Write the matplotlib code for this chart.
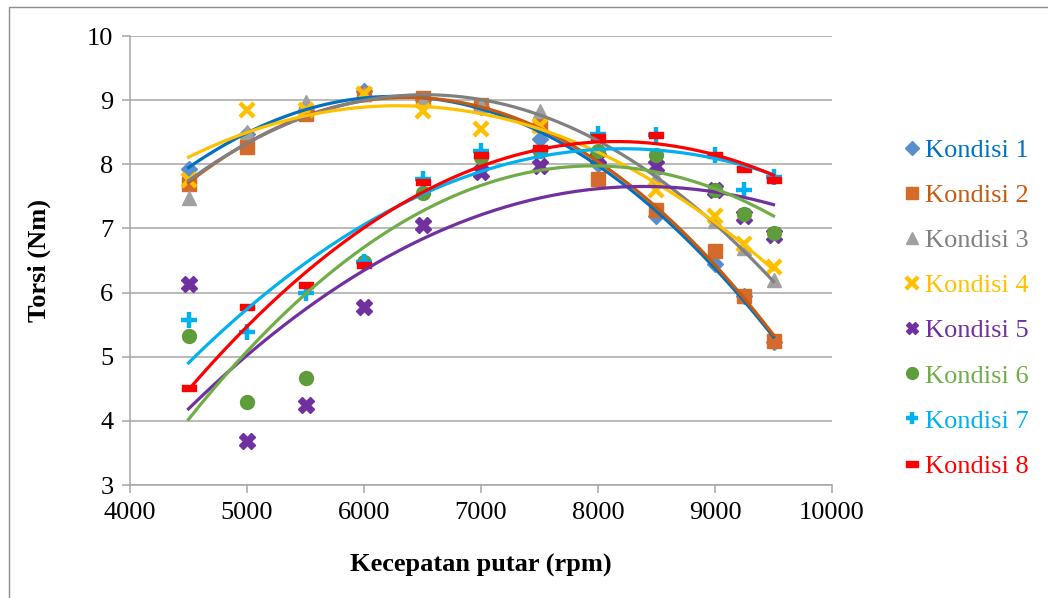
import numpy as np
import matplotlib
matplotlib.use("Agg")
import matplotlib.pyplot as plt
from matplotlib.patches import Rectangle
from matplotlib.path import Path

plt.rcParams['font.family'] = ['Liberation Serif', 'DejaVu Serif']

# Engine speed (rpm)
rpm = [4500, 5000, 5500, 6000, 6500, 7000, 7500, 8000, 8500, 9000, 9250, 9500]

# Torque (Nm) for each condition
k1 = [7.93, 8.47, 8.85, 9.15, 9.00, 8.90, 8.40, 8.00, 7.20, 6.45, 5.95, 5.23]
k2 = [7.70, 8.27, 8.78, 9.10, 9.03, 8.93, 8.62, 7.77, 7.28, 6.65, 5.95, 5.25]
k3 = [7.47, 8.50, 8.97, 9.10, 9.00, 8.93, 8.83, 8.10, 7.80, 7.12, 6.70, 6.20]
k4 = [7.75, 8.85, 8.85, 9.10, 8.83, 8.55, 8.60, 8.10, 7.60, 7.20, 6.75, 6.40]
k5 = [6.13, 3.68, 4.25, 5.77, 7.05, 7.88, 7.97, 8.10, 7.98, 7.60, 7.20, 6.90]
k6 = [5.32, 4.30, 4.67, 6.47, 7.55, 8.12, 8.20, 8.20, 8.15, 7.60, 7.22, 6.93]
k7 = [5.57, 5.38, 6.00, 6.48, 7.77, 8.20, 8.20, 8.47, 8.45, 8.15, 7.60, 7.80]
k8 = [4.52, 5.78, 6.12, 6.43, 7.73, 8.15, 8.25, 8.43, 8.45, 8.15, 7.93, 7.75]

labels = ['Kondisi 1', 'Kondisi 2', 'Kondisi 3', 'Kondisi 4',
          'Kondisi 5', 'Kondisi 6', 'Kondisi 7', 'Kondisi 8']
series = [k1, k2, k3, k4, k5, k6, k7, k8]

marker_colors = ['#5B8FCB', '#D46B2B', '#A0A0A0', '#FFC000',
                 '#7030A0', '#5E9C3C', '#00B0F0', '#FF0000']
line_colors = ['#0070C0', '#C55A11', '#808080', '#FFC000',
               '#7030A0', '#70AD47', '#00B0F0', '#FF0000']
text_colors = ['#0070C0', '#C55A11', '#808080', '#FFC000',
               '#7030A0', '#70AD47', '#00B0F0', '#FF0000']

dash = Path([(-1, -0.45), (1, -0.45), (1, 0.45), (-1, 0.45), (-1, -0.45)],
            [Path.MOVETO, Path.LINETO, Path.LINETO, Path.LINETO, Path.CLOSEPOLY])
styles = [
    dict(marker='D', markersize=8),
    dict(marker='s', markersize=10),
    dict(marker='^', markersize=10),
    dict(marker='x', markersize=10, markeredgewidth=3.2),
    dict(marker='X', markersize=11),
    dict(marker='o', markersize=10),
    dict(marker='+', markersize=11, markeredgewidth=3.2),
    dict(marker=dash, markersize=10),
]

fig = plt.figure(figsize=(10.48, 5.98), dpi=100)
fig.patches.append(Rectangle((9 / 1048, -0.1), 1.2, 1.1 - 7 / 598,
                             transform=fig.transFigure, fill=False,
                             edgecolor='#8C8C8C', linewidth=1.0))

ax = fig.add_axes([130 / 1048, 1 - 485 / 598, 702 / 1048, 449 / 598])

x = np.array(rpm)
xs = np.linspace(x.min(), x.max(), 200)
handles = []
for y, lab, mc, lc, st in zip(series, labels, marker_colors, line_colors, styles):
    y = np.array(y)
    kw = dict(st)
    if kw['marker'] in ('x', '+'):
        h, = ax.plot(x, y, linestyle='none', color=mc, label=lab, zorder=3, **kw)
    else:
        h, = ax.plot(x, y, linestyle='none', color=mc, markeredgecolor=mc,
                     label=lab, zorder=3, **kw)
    handles.append(h)
    # polynomial trendline (order 2)
    coef = np.polyfit(x, y, 2)
    ax.plot(xs, np.polyval(coef, xs), color=lc, linewidth=2.3, zorder=4)

ax.set_xlim(4000, 10000)
ax.set_ylim(3, 10)
ax.set_xticks(range(4000, 10001, 1000))
ax.set_yticks(range(3, 11))
ax.yaxis.grid(True, color='#A6A6A6', linewidth=1.1)
ax.set_axisbelow(True)
for s in ['top', 'right']:
    ax.spines[s].set_visible(False)
for s in ['left', 'bottom']:
    ax.spines[s].set_color('#A6A6A6')
    ax.spines[s].set_linewidth(1.1)
ax.tick_params(axis='both', direction='out', length=6, width=1.1,
               color='#A6A6A6', labelsize=19, labelcolor='black', pad=6)

ax.set_xlabel('Kecepatan putar (rpm)', fontsize=19, fontweight='bold', labelpad=22)
ax.set_ylabel('Torsi (Nm)', fontsize=19, fontweight='bold', labelpad=26)

leg = fig.legend(handles=handles, labels=labels, loc='upper left',
                 bbox_to_anchor=(891 / 1048, 1 - 128 / 598),
                 frameon=False, fontsize=19, handlelength=0.8,
                 handletextpad=0.1, labelspacing=0.82, borderaxespad=0,
                 labelcolor=text_colors, numpoints=1)
for lh in leg.legend_handles:
    lh.set_markersize(lh.get_markersize() * 0.85)

fig.savefig('out.png', dpi=100)
